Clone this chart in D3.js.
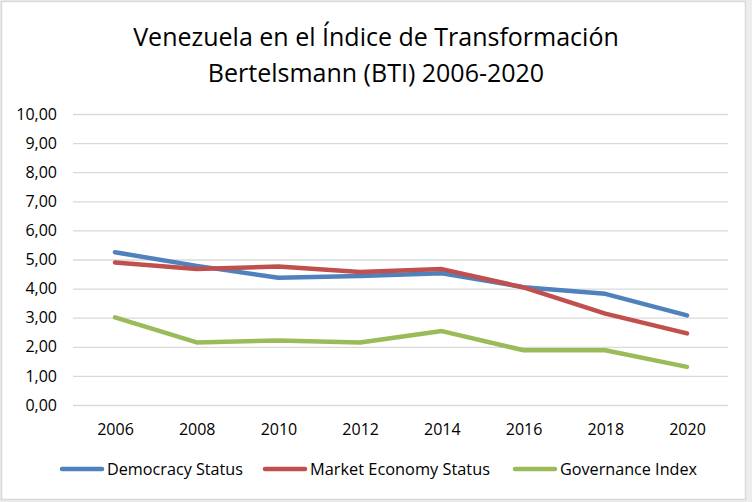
<!DOCTYPE html>
<html><head><meta charset="utf-8">
<script src="https://cdn.jsdelivr.net/npm/d3@7"></script>
<style>body{margin:0;background:#fff}svg{display:block}text{font-family:"Open Sans","Noto Sans",sans-serif;fill:#000}</style>
</head><body><svg id="c" width="752" height="502"></svg>
<script>
const years = ["2006","2008","2010","2012","2014","2016","2018","2020"];
const democracy = [5.25, 4.78, 4.37, 4.43, 4.53, 4.05, 3.82, 3.08];
const market = [4.90, 4.67, 4.76, 4.57, 4.67, 4.04, 3.14, 2.46];
const governance = [3.01, 2.15, 2.22, 2.15, 2.54, 1.88, 1.88, 1.31];
const yTicks = [0,1,2,3,4,5,6,7,8,9,10];
const seriesNames = ["Democracy Status","Market Economy Status","Governance Index"];
const colors = ["#4F81BD","#C0504D","#9BBB59"];

const svg = d3.select("#c");
svg.append("rect").attr("x",0).attr("y",0).attr("width",752).attr("height",502).attr("fill","#EDEDED");
svg.append("rect").attr("x",1.5).attr("y",1.5).attr("width",744).attr("height",498).attr("fill","#fff").attr("stroke","#D9D9D9").attr("stroke-width",1.5);

const x = d3.scalePoint().domain(years).range([115,687]);
const y = d3.scaleLinear().domain([0,10]).range([405,114]);

const fmt = v => v.toFixed(2).replace(".",",");
const yAxis = svg.append("g").attr("transform","translate(73,0)")
  .call(d3.axisLeft(y).tickValues(yTicks).tickSize(-655).tickFormat(fmt).tickPadding(16));
yAxis.select(".domain").remove();
yAxis.selectAll("line").attr("stroke","#D9D9D9").attr("stroke-width",1.3);
yAxis.selectAll("text").attr("font-size",16).style("font-family",'"Open Sans",sans-serif').attr("fill","#000");

const xAxis = svg.append("g").attr("transform","translate(0,405)")
  .call(d3.axisBottom(x).tickSize(0).tickPadding(19));
xAxis.select(".domain").remove();
xAxis.selectAll("text").attr("font-size",16).style("font-family",'"Open Sans",sans-serif').attr("fill","#000");

const line = d3.line().x((d,i)=>x(years[i])).y(d=>y(d));
[democracy, market, governance].forEach((s,k)=>{
  svg.append("path").datum(s).attr("d",line).attr("fill","none")
    .attr("stroke",colors[k]).attr("stroke-width",4.5).attr("stroke-linejoin","round").attr("stroke-linecap","round");
});

svg.append("text").attr("x",376).attr("y",46).attr("text-anchor","middle").attr("font-size",25).text("Venezuela en el Índice de Transformación");
svg.append("text").attr("x",376).attr("y",82).attr("text-anchor","middle").attr("font-size",25).text("Bertelsmann (BTI) 2006-2020");

const legX = [60, 263, 513];
const legW = [136, 180, 137];
seriesNames.forEach((n,k)=>{
  const g = svg.append("g").attr("transform",`translate(${legX[k]},469)`);
  g.append("line").attr("x1",2).attr("x2",42).attr("y1",0).attr("y2",0).attr("stroke",colors[k]).attr("stroke-width",4.5).attr("stroke-linecap","round");
  g.append("text").attr("x",47).attr("y",6).attr("font-size",16.5)
    .attr("textLength",legW[k]).attr("lengthAdjust","spacingAndGlyphs").text(n);
});
</script></body></html>
